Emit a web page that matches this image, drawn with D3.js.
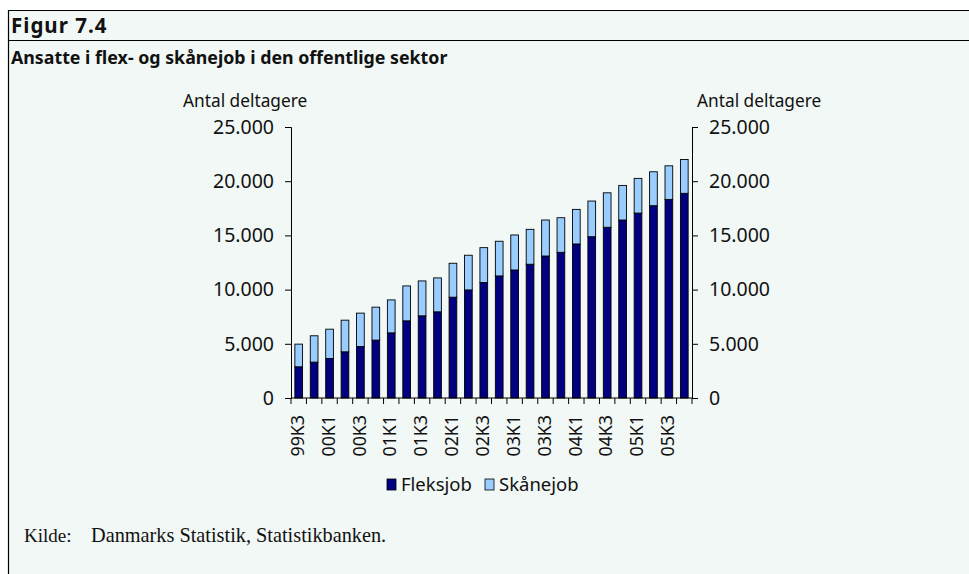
<!DOCTYPE html>
<html>
<head>
<meta charset="utf-8">
<script src="https://cdn.jsdelivr.net/npm/d3@7"></script>
<style>
  body { margin: 0; background: #fff; }
  text { font-family: "Noto Sans", sans-serif; fill: #111; }
</style>
</head>
<body>
<div id="chart"></div>
<script>
// Quarters 99K3 .. 05K4
const quarters = ["99K3","99K4",
  "00K1","00K2","00K3","00K4",
  "01K1","01K2","01K3","01K4",
  "02K1","02K2","02K3","02K4",
  "03K1","03K2","03K3","03K4",
  "04K1","04K2","04K3","04K4",
  "05K1","05K2","05K3","05K4"];

const fleksjob = [2880, 3310, 3650, 4260, 4750, 5340, 6010, 7120, 7580, 7950,
  9300, 9970, 10650, 11260, 11810, 12340, 13100, 13440, 14210, 14880,
  15750, 16420, 17060, 17740, 18320, 18880];

const skaanejob = [2090, 2430, 2700, 2920, 3080, 3040, 3040, 3220, 3220, 3130,
  3130, 3200, 3220, 3200, 3230, 3220, 3320, 3190, 3190, 3290,
  3180, 3190, 3200, 3130, 3100, 3120];

const seriesNames = ["Fleksjob", "Skånejob"];
const seriesColors = ["#000080", "#99ccff"];
const yTicks = [0, 5000, 10000, 15000, 20000, 25000];

const W = 969, H = 574;

const svg = d3.select("#chart").append("svg")
  .attr("width", W)
  .attr("height", H);

// frame + background
svg.append("rect")
  .attr("x", 8.5).attr("y", 10.5)
  .attr("width", W).attr("height", H)
  .attr("fill", "#f1f8f5");
svg.append("line")
  .attr("x1", 8.5).attr("x2", W).attr("y1", 10.5).attr("y2", 10.5)
  .attr("stroke", "#000").attr("stroke-width", 1.2);
svg.append("line")
  .attr("x1", 8.5).attr("x2", W).attr("y1", 40.5).attr("y2", 40.5)
  .attr("stroke", "#000").attr("stroke-width", 1.2);
svg.append("line")
  .attr("x1", 8.5).attr("x2", 8.5).attr("y1", 10).attr("y2", H)
  .attr("stroke", "#000").attr("stroke-width", 1.2);

svg.append("text")
  .attr("x", 11).attr("y", 33)
  .style("font-weight", "bold").style("font-size", "20.5px")
  .style("letter-spacing", "1px")
  .text("Figur 7.4");
svg.append("text")
  .attr("x", 11).attr("y", 64)
  .style("font-weight", "bold").style("font-size", "17.8px")
  .text("Ansatte i flex- og skånejob i den offentlige sektor");

// scales
const x = d3.scaleBand()
  .domain(quarters)
  .range([291, 692])
  .paddingInner(0.5)
  .paddingOuter(0.25);

const y = d3.scaleLinear()
  .domain([0, 25000])
  .range([398, 127]);

const loc = d3.formatLocale({ decimal: ",", thousands: ".", grouping: [3], currency: ["", ""] });
const fmt = loc.format(",");

// stacked bars
const rows = quarters.map((q, i) => ({ q: q, Fleksjob: fleksjob[i], "Skånejob": skaanejob[i] }));
const stack = d3.stack().keys(seriesNames)(rows);

svg.append("g").selectAll("g")
  .data(stack)
  .join("g")
  .attr("fill", (d, i) => seriesColors[i])
  .selectAll("rect")
  .data(d => d)
  .join("rect")
  .attr("x", d => x(d.data.q))
  .attr("width", x.bandwidth())
  .attr("y", d => y(d[1]))
  .attr("height", d => y(d[0]) - y(d[1]))
  .attr("stroke", "#000")
  .attr("stroke-width", 0.9);

// y axes
const yLeft = svg.append("g")
  .attr("transform", "translate(291,0)")
  .call(d3.axisLeft(y).tickValues(yTicks).tickFormat(fmt).tickSize(6).tickPadding(11));
const yRight = svg.append("g")
  .attr("transform", "translate(692,0)")
  .call(d3.axisRight(y).tickValues(yTicks).tickFormat(fmt).tickSize(6).tickPadding(11));
[yLeft, yRight].forEach(g => {
  g.select(".domain").attr("stroke", "#000");
  g.selectAll(".tick line").attr("stroke", "#000");
  g.selectAll("text").style("font-size", "19.5px").attr("fill", "#111")
    .style("font-family", "'Noto Sans', sans-serif");
});

svg.append("text")
  .attr("x", 183).attr("y", 107)
  .style("font-size", "17.3px")
  .text("Antal deltagere");
svg.append("text")
  .attr("x", 697).attr("y", 107)
  .style("font-size", "17.3px")
  .text("Antal deltagere");

// x axis
const step = x.step();
const xAxis = svg.append("g")
  .attr("transform", "translate(0,398)")
  .call(d3.axisBottom(x).tickSize(0).tickPadding(0)
    .tickValues(quarters.filter((q, i) => i % 2 === 0)));
xAxis.select(".domain").attr("stroke", "#000").attr("d", "M291,0H692");
xAxis.selectAll(".tick text")
  .attr("transform", "rotate(-90)")
  .attr("text-anchor", "end")
  .attr("x", -17)
  .attr("y", -1)
  .attr("dy", "0.35em")
  .style("font-size", "17.8px")
  .style("font-family", "'Noto Sans', sans-serif")
  .attr("fill", "#111");

// boundary ticks between bars
xAxis.append("g").selectAll("line")
  .data(d3.range(quarters.length + 1))
  .join("line")
  .attr("x1", i => 291 + i * step)
  .attr("x2", i => 291 + i * step)
  .attr("y1", 0).attr("y2", 6)
  .attr("stroke", "#000");

// legend
const legend = svg.append("g").attr("transform", "translate(387,479)");
const items = legend.selectAll("g")
  .data(seriesNames)
  .join("g")
  .attr("transform", (d, i) => `translate(${i * 98},0)`);
items.append("rect")
  .attr("width", 9).attr("height", 11)
  .attr("fill", (d, i) => seriesColors[i])
  .attr("stroke", "#000").attr("stroke-width", 0.8);
items.append("text")
  .attr("x", 14).attr("y", 11.5)
  .style("font-size", "18.5px")
  .text(d => d);

// source
svg.append("text")
  .attr("x", 24).attr("y", 542)
  .style("font-family", "'Liberation Serif', serif")
  .style("font-size", "19px")
  .text("Kilde:");
svg.append("text")
  .attr("x", 91).attr("y", 542)
  .style("font-family", "'Liberation Serif', serif")
  .style("font-size", "20.3px")
  .text("Danmarks Statistik, Statistikbanken.");
</script>
</body>
</html>
